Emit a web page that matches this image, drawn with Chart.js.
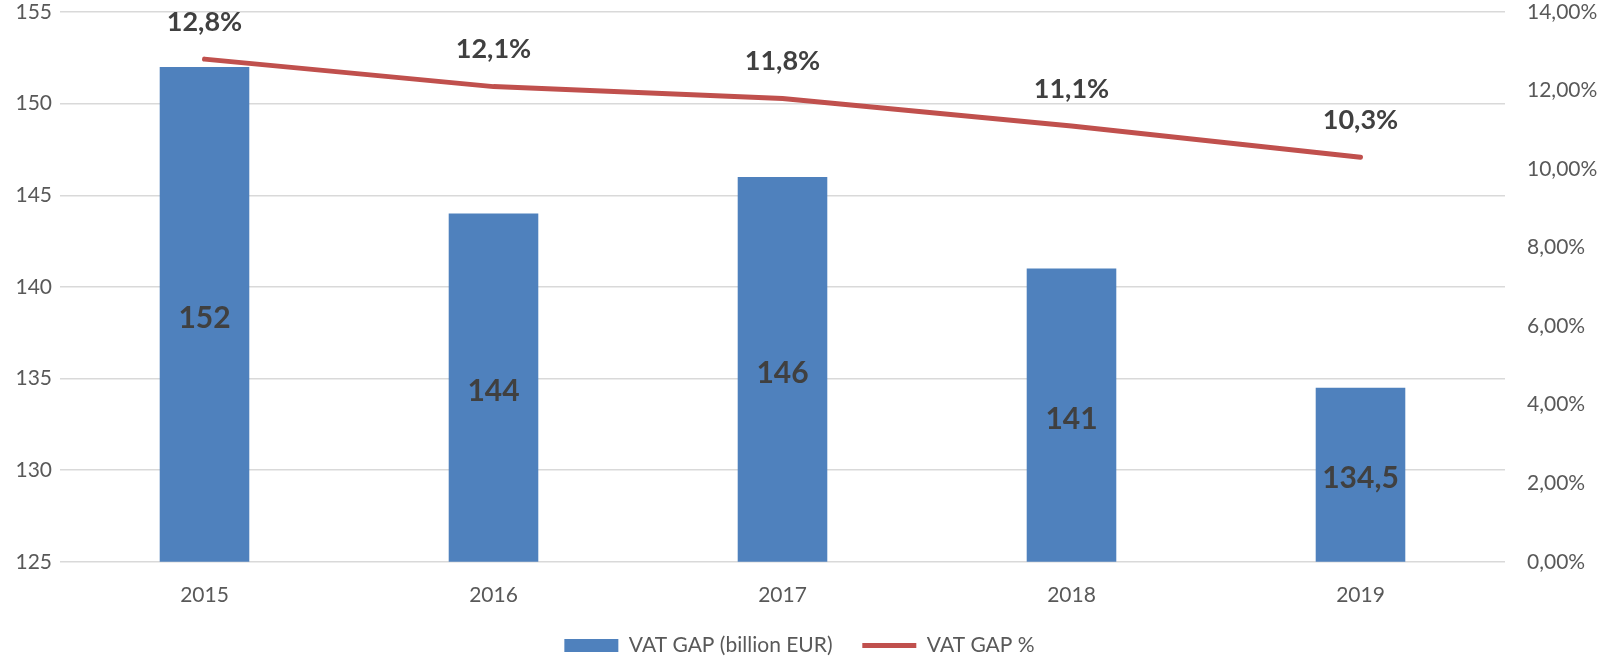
<!DOCTYPE html>
<html>
<head>
<meta charset="utf-8">
<script src="https://cdn.jsdelivr.net/npm/chart.js@4.4.0/dist/chart.umd.min.js"></script>
<style>
  html, body { margin: 0; background: #fff; }
  #wrap { width: 1599px; height: 659px; }
</style>
</head>
<body>
<div id="wrap"><canvas id="vatChart"></canvas></div>
<script>
const years = ['2015', '2016', '2017', '2018', '2019'];
const gapBillion = [152, 144, 146, 141, 134.5];
const gapPercent = [12.8, 12.1, 11.8, 11.1, 10.3];

const fmt = (v, d) => v.toFixed(d).replace('.', ',');

Chart.defaults.font.family = 'Lato, "Open Sans", sans-serif';
Chart.defaults.color = '#595959';

// value labels: inside the bars and above the line
const valueLabels = {
  id: 'valueLabels',
  afterDatasetsDraw(chart) {
    const ctx = chart.ctx;
    const bottom = chart.scales.y.bottom;
    ctx.save();
    ctx.fillStyle = '#404040';
    ctx.textAlign = 'center';
    ctx.textBaseline = 'middle';
    ctx.font = 'bold 30px Lato, sans-serif';
    chart.getDatasetMeta(0).data.forEach((bar, i) => {
      const v = gapBillion[i];
      ctx.fillText(fmt(v, v % 1 ? 1 : 0), bar.x, (bar.y + bottom) / 2 + 4);
    });
    ctx.font = 'bold 27px Lato, sans-serif';
    chart.getDatasetMeta(1).data.forEach((pt, i) => {
      ctx.fillText(fmt(gapPercent[i], 1) + '%', pt.x, pt.y - 37);
    });
    ctx.restore();
  }
};

// fixed gutter for the value axes
const fitY = (w) => (s) => { s.width = w; s.paddingTop = 12; s.paddingBottom = 0; };

const data = {
  labels: years,
  datasets: [{
    type: 'bar',
    label: 'VAT GAP (billion EUR)',
    data: gapBillion,
    backgroundColor: '#4f81bd',
    yAxisID: 'y',
    barPercentage: 0.31,
    categoryPercentage: 1,
    pointStyle: 'rect'
  }, {
    type: 'line',
    label: 'VAT GAP %',
    data: gapPercent,
    borderColor: '#c0504d',
    backgroundColor: '#c0504d',
    borderWidth: 5,
    borderCapStyle: 'round',
    pointRadius: 0,
    pointStyle: 'line',
    tension: 0,
    yAxisID: 'y1'
  }]
};

const config = {
  data: data,
  plugins: [valueLabels],
  options: {
    responsive: true,
    maintainAspectRatio: false,
    animation: false,
    layout: { padding: { top: 0, left: 0, right: 0, bottom: -7 } },
    plugins: {
      tooltip: { enabled: false },
      legend: {
        position: 'bottom',
        labels: {
          usePointStyle: true,
          pointStyleWidth: 54,
          boxHeight: 13,
          padding: 14,
          color: '#595959',
          font: { size: 21 },
          generateLabels(chart) {
            const items = Chart.defaults.plugins.legend.labels.generateLabels(chart);
            items[0].text += '\u2003';  // wider gap between the two entries
            return items;
          }
        }
      }
    },
    scales: {
      x: {
        grid: { display: false },
        border: { display: false },
        ticks: { font: { size: 21 }, padding: 13 }
      },
      y: {
        position: 'left',
        min: 125,
        max: 155,
        ticks: { stepSize: 5, font: { size: 21 }, padding: 8 },
        grid: { color: '#d9d9d9', lineWidth: 1.5, drawTicks: false },
        border: { display: false },
        afterFit: fitY(60)
      },
      y1: {
        position: 'right',
        min: 0,
        max: 14,
        ticks: { stepSize: 2, font: { size: 21 }, padding: 22, callback: v => fmt(v, 2) + '%' },
        grid: { display: false, drawTicks: false },
        border: { display: false },
        afterFit: fitY(94)
      }
    }
  }
};

new Chart(document.getElementById('vatChart'), config);
</script>
</body>
</html>
